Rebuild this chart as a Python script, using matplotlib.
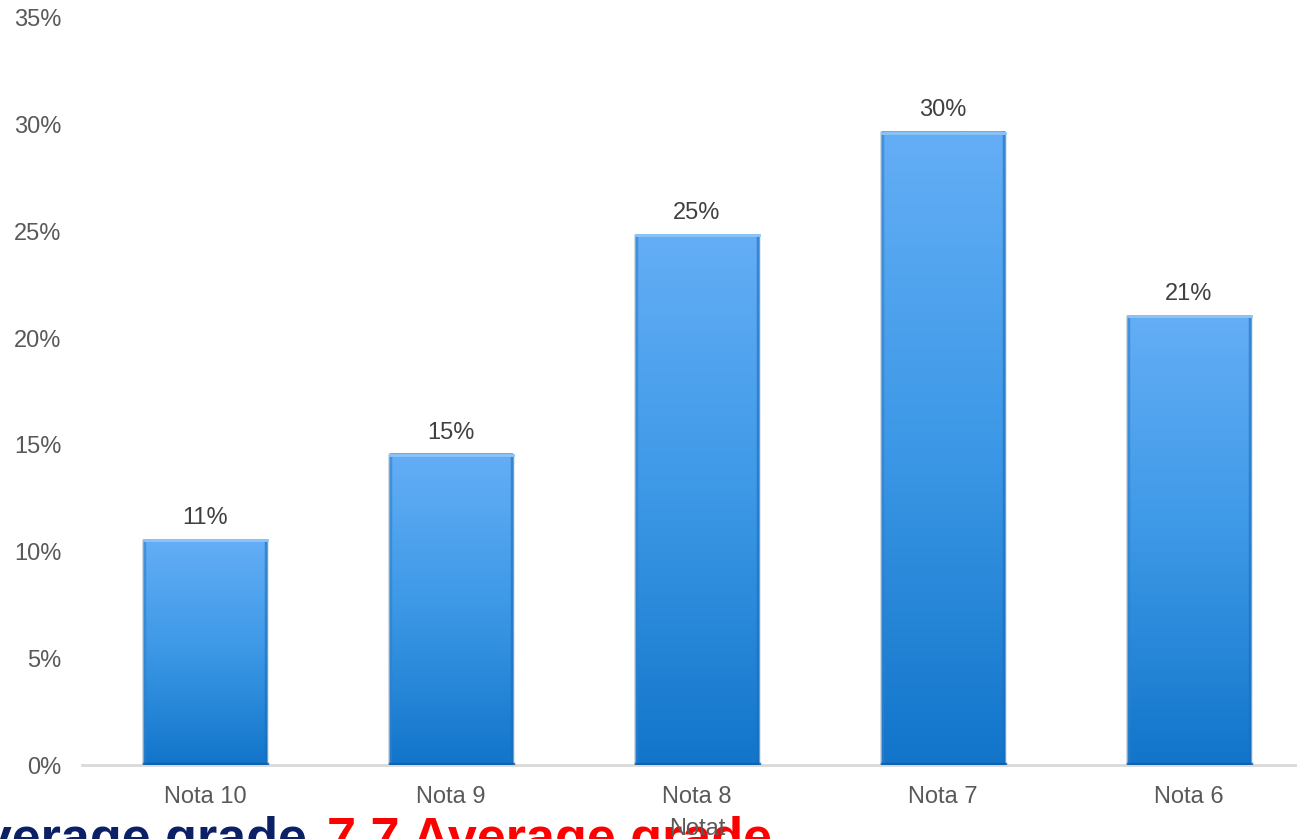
import matplotlib

matplotlib.use("Agg")
import matplotlib.pyplot as plt
import numpy as np
from matplotlib.colors import LinearSegmentedColormap
from matplotlib.ticker import FuncFormatter

categories = ["Nota 10", "Nota 9", "Nota 8", "Nota 7", "Nota 6"]
shares = [10.6, 14.6, 24.9, 29.7, 21.1]
y_ticks = [0, 5, 10, 15, 20, 25, 30, 35]
x_title = "Notat"
note_left = "Average grade"
note_right = "7.7 Average grade"

plt.rcParams["font.family"] = ["Liberation Sans", "DejaVu Sans"]
grey = "#595959"

W, H = 1297, 839
fig = plt.figure(figsize=(W / 100, H / 100), dpi=100)
ax = fig.add_axes([82 / W, 74 / H, 1230 / W, 747 / H])
ax.patch.set_alpha(0)

x = np.arange(len(categories))
bars = ax.bar(x, shares, width=0.5, color="none", edgecolor="none", zorder=2)

cmap = LinearSegmentedColormap.from_list("bar", ["#1275CA", "#3C98E6", "#64AEF6"])
grad = np.linspace(0, 1, 256).reshape(-1, 1)
for b in bars:
    x0, w, h = b.get_x(), b.get_width(), b.get_height()
    # soft shadow
    ax.bar(x0 + w / 2, h, width=w * 1.03, color="#000000", alpha=0.08,
           zorder=1)
    im = ax.imshow(grad, cmap=cmap, origin="lower", aspect="auto",
                   extent=[x0, x0 + w, 0, h], zorder=2)
    im.set_clip_path(b)
    # bevel edges
    ax.plot([x0 + 0.003, x0 + 0.003], [0.1, h - 0.1], color="#2F7FC8", lw=2.5,
            alpha=0.6, zorder=3)
    ax.plot([x0 + w - 0.003, x0 + w - 0.003], [0.1, h - 0.1], color="#1F6CB8",
            lw=2.5, alpha=0.6, zorder=3)
    ax.plot([x0, x0 + w], [h - 0.07, h - 0.07], color="#8CC4F7", lw=2,
            zorder=3)
    ax.plot([x0, x0 + w], [0.07, 0.07], color="#0E5FA8", lw=2.5, alpha=0.8,
            zorder=3)
    ax.annotate(f"{h:.0f}%", (x0 + w / 2, h), xytext=(0, 7),
                textcoords="offset points", ha="center", va="bottom",
                fontsize=17, color="#404040")

ax.set_xlim(-0.5, len(categories) - 0.5)
ax.set_ylim(0, 35)
ax.set_yticks(y_ticks)
ax.yaxis.set_major_formatter(FuncFormatter(lambda v, _: f"{v:.0f}%"))
ax.set_xticks(x)
ax.set_xticklabels(categories)
ax.tick_params(axis="y", length=0, pad=15, labelsize=17, labelcolor=grey)
ax.tick_params(axis="x", length=0, pad=15, labelsize=17, labelcolor=grey)
for side in ["top", "right", "left"]:
    ax.spines[side].set_visible(False)
ax.spines["bottom"].set_color("#D9D9D9")
ax.spines["bottom"].set_linewidth(2)
ax.spines["bottom"].set_zorder(0)

ax.set_xlabel(x_title, fontsize=17, color=grey)
ax.xaxis.set_label_coords(0.5, -0.071)

fig.text(307 / W, -15 / H, note_left, ha="right", va="baseline",
         fontsize=37.5, fontweight="bold", color="#0B2065", zorder=-1)
fig.text(327 / W, -15 / H, note_right, ha="left", va="baseline",
         fontsize=37.5, fontweight="bold", color="#FF0000", zorder=-1)

fig.savefig("out.png", dpi=100)
